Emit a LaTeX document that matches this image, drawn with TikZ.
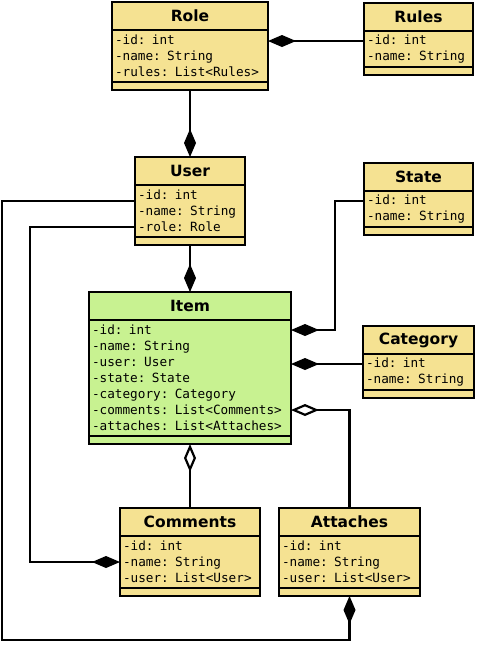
\documentclass[tikz,border=0pt]{standalone}
\usepackage{fontspec}
\newfontfamily\headfont{DejaVu Sans}
\newfontfamily\attrfont{DejaVu Sans Mono}
\usetikzlibrary{arrows.meta,positioning}
\definecolor{classyellow}{RGB}{245,226,146}
\definecolor{classgreen}{RGB}{200,242,145}
\begin{document}
\begin{tikzpicture}[x=1pt,y=-1pt,
    every node/.style={draw, line width=2.6pt, fill=classyellow, outer sep=0pt},
    head/.style={minimum height=28pt, inner sep=0pt, font=\headfont\bfseries\fontsize{15.5}{18}\selectfont},
    body/.style={inner xsep=3pt, inner ysep=2pt, align=left, font=\attrfont\fontsize{12.7}{16}\selectfont},
    foot/.style={minimum height=8pt, inner sep=0pt},
    has/.style={-{Diamond[length=28pt,width=12pt]}},
    part/.style={-{Diamond[open,fill=white,length=28pt,width=12pt]}}]
      \useasboundingbox (0,0) rectangle (477,659);
      % classes
      \node[head, minimum width=156pt, anchor=north west] (role) at (112,2) {Role};
      \node[body, text width=150pt, minimum height=52pt, anchor=north] (role-a) at (role.south) {-id: int\\-name: String\\-rules: List<Rules>};
      \node[foot, minimum width=156pt, anchor=north] (role-f) at (role-a.south) {};
      \node[head, minimum width=109pt, anchor=north west] (rules) at (364,3) {Rules};
      \node[body, text width=103pt, minimum height=36pt, anchor=north] (rules-a) at (rules.south) {-id: int\\-name: String};
      \node[foot, minimum width=109pt, anchor=north] (rules-f) at (rules-a.south) {};
      \node[head, minimum width=110pt, anchor=north west] (user) at (135,157) {User};
      \node[body, text width=104pt, minimum height=52pt, anchor=north] (user-a) at (user.south) {-id: int\\-name: String\\-role: Role};
      \node[foot, minimum width=110pt, anchor=north] (user-f) at (user-a.south) {};
      \node[head, minimum width=109pt, anchor=north west] (state) at (364,163) {State};
      \node[body, text width=103pt, minimum height=36pt, anchor=north] (state-a) at (state.south) {-id: int\\-name: String};
      \node[foot, minimum width=109pt, anchor=north] (state-f) at (state-a.south) {};
      \node[head, fill=classgreen, minimum width=202pt, anchor=north west] (item) at (89,292) {Item};
      \node[body, fill=classgreen, text width=196pt, minimum height=116pt, anchor=north] (item-a) at (item.south) {-id: int\\-name: String\\-user: User\\-state: State\\-category: Category\\-comments: List<Comments>\\-attaches: List<Attaches>};
      \node[foot, fill=classgreen, minimum width=202pt, anchor=north] (item-f) at (item-a.south) {};
      \node[head, minimum width=111pt, anchor=north west] (category) at (363,326) {Category};
      \node[body, text width=105pt, minimum height=36pt, anchor=north] (category-a) at (category.south) {-id: int\\-name: String};
      \node[foot, minimum width=111pt, anchor=north] (category-f) at (category-a.south) {};
      \node[head, minimum width=140pt, anchor=north west] (comments) at (120,508) {Comments};
      \node[body, text width=134pt, minimum height=52pt, anchor=north] (comments-a) at (comments.south) {-id: int\\-name: String\\-user: List<User>};
      \node[foot, minimum width=140pt, anchor=north] (comments-f) at (comments-a.south) {};
      \node[head, minimum width=141pt, anchor=north west] (attaches) at (279,508) {Attaches};
      \node[body, text width=135pt, minimum height=52pt, anchor=north] (attaches-a) at (attaches.south) {-id: int\\-name: String\\-user: List<User>};
      \node[foot, minimum width=141pt, anchor=north] (attaches-f) at (attaches-a.south) {};
      % links
      \begin{scope}[line width=2.2pt]
        \draw[has] ([yshift=-10pt]rules-a.north west) -- ([yshift=-10pt]rules-a.north west -| role-a.east);
        \draw[has] (role-f.south) -- (user.north);
        \draw[has] (user-f.south) -- (item.north);
        \draw[has] ([yshift=-10pt]state-a.north west) -- ++(-29,0) |- ([yshift=-10pt]item-a.north east);
        \draw[has] ([yshift=-10pt]category-a.north west) -- ([yshift=-10pt]category-a.north west -| item-a.east);
        \draw[part] (attaches.north) |- ([yshift=-90pt]item-a.north east);
        \draw[part] (comments.north) -- (item-f.south);
        \draw[has] ([yshift=-42pt]user-a.north west) -- ++(-105,0) |- ([yshift=-26pt]comments-a.north west);
        \draw[has] ([yshift=-16pt]user-a.north west) -- ++(-133,0) -- ++(0,439) -| (attaches-f.south);
      \end{scope}
    \end{tikzpicture}
\end{document}
